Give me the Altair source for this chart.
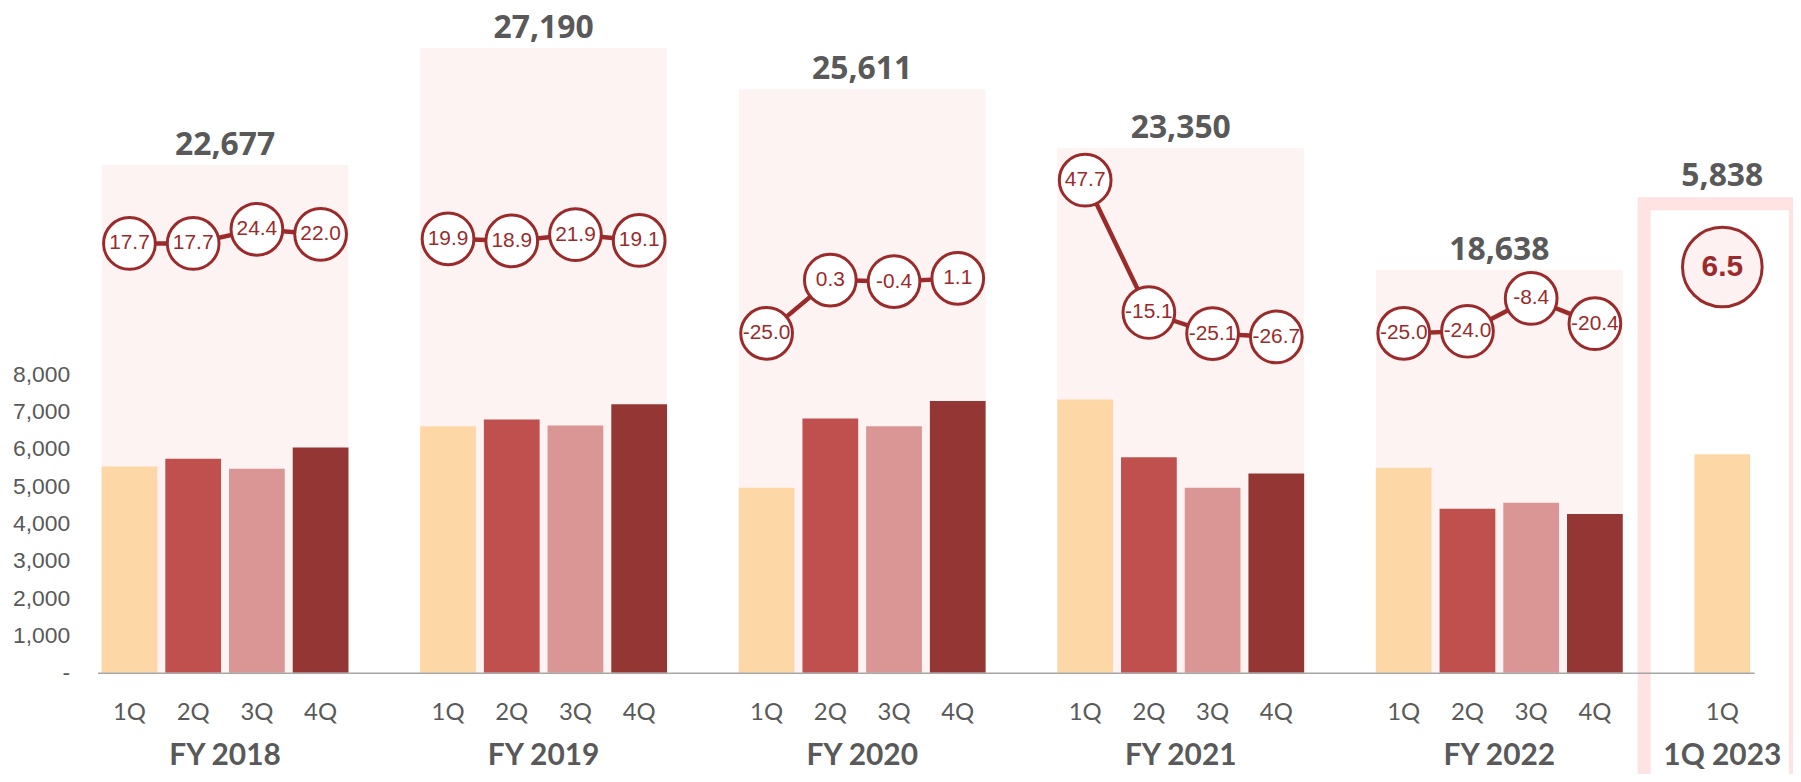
import altair as alt
import pandas as pd

# ---------------- data ----------------
years = ["FY 2018", "FY 2019", "FY 2020", "FY 2021", "FY 2022"]
quarters = ["1Q", "2Q", "3Q", "4Q"]

sales_fy2018 = [5530, 5740, 5470, 6040]
sales_fy2019 = [6610, 6790, 6630, 7200]
sales_fy2020 = [4960, 6820, 6610, 7290]
sales_fy2021 = [7330, 5780, 4960, 5340]
sales_fy2022 = [5500, 4400, 4560, 4260]

totals = [22677, 27190, 25611, 23350, 18638]

yoy_fy2018 = [17.7, 17.7, 24.4, 22.0]
yoy_fy2019 = [19.9, 18.9, 21.9, 19.1]
yoy_fy2020 = [-25.0, 0.3, -0.4, 1.1]
yoy_fy2021 = [47.7, -15.1, -25.1, -26.7]
yoy_fy2022 = [-25.0, -24.0, -8.4, -20.4]

latest_period = "1Q 2023"
latest_quarter = "1Q"
latest_sales = 5860
latest_total = 5838
latest_yoy = 6.5

y_ticks = [0, 1000, 2000, 3000, 4000, 5000, 6000, 7000, 8000]

# ---------------- styling ----------------
W, H = 1664, 658
GRAY = "#595959"
LINE = "#9B2B2B"
PANEL = "#FEF3F3"
FRAME = "#FFE2E2"
bar_colors = ["#FDD8A6", "#C0504D", "#D99694", "#943634"]

all_sales = [sales_fy2018, sales_fy2019, sales_fy2020, sales_fy2021, sales_fy2022]
all_yoy = [yoy_fy2018, yoy_fy2019, yoy_fy2020, yoy_fy2021, yoy_fy2022]

# ---------------- tables ----------------
keys = []
bar_rows, line_rows, panel_rows, fy_rows = [], [], [], []
for yi, yr in enumerate(years):
    for qi, q in enumerate(quarters):
        k = f"{yr}|{q}"
        keys.append(k)
        bar_rows.append({"key": k, "quarter": q, "value": all_sales[yi][qi]})
        line_rows.append({"key": k, "year": yr, "yoy": all_yoy[yi][qi],
                          "label": f"{all_yoy[yi][qi]:.1f}"})
    keys.append(f"{yr}|gap")
    panel_rows.append({"k1": f"{yr}|1Q", "k4": f"{yr}|4Q", "k2": f"{yr}|2Q",
                       "total": totals[yi], "tlabel": f"{totals[yi]:,}"})
    fy_rows.append({"key": f"{yr}|2Q", "label": yr})

latest_key = f"{latest_period}|{latest_quarter}"
keys.append(latest_key)
bar_rows.append({"key": latest_key, "quarter": latest_quarter, "value": latest_sales})

bars_df = pd.DataFrame(bar_rows)
line_df = pd.DataFrame(line_rows)
panel_df = pd.DataFrame(panel_rows)
fy_df = pd.DataFrame(fy_rows)
latest_df = pd.DataFrame([{
    "key": latest_key, "gap": f"{years[-1]}|gap", "yoy": latest_yoy,
    "label": f"{latest_yoy:.1f}", "tlabel": f"{latest_total:,}", "period": latest_period,
}])

# ---------------- scales / axes ----------------
xs = alt.Scale(domain=keys, paddingInner=0.125, paddingOuter=0.0625)
main_s = alt.Scale(domain=[0, 17566], nice=False, zero=False)
panel_s = alt.Scale(domain=[3065, 28373], nice=False, zero=False)
pct_s = alt.Scale(domain=[-186.1, 124.86], nice=False, zero=False)

x_axis = alt.Axis(
    title=None,
    labelExpr="indexof(datum.value, 'gap') >= 0 ? '' : split(datum.value, '|')[1]",
    labelFont="Lato", labelFontSize=24, labelColor=GRAY,
    labelBaseline="middle", labelPadding=40, labelAngle=0,
    labelOverlap=False, ticks=False, tickSize=0,
    domainColor="#A6A6A6", domainWidth=1.5, grid=False,
)
y_axis = alt.Axis(
    title=None, values=y_ticks,
    labelExpr="datum.value == 0 ? '-\u00a0\u00a0' : format(datum.value, ',')",
    labelFont="Liberation Sans", labelFontSize=23, labelColor=GRAY,
    labelPadding=28, ticks=False, domain=False, grid=False,
)

def X(field, **kw):
    return alt.X(field, scale=xs, axis=x_axis, **kw)

GAP_HALF = 4  # half of the inner gap between adjacent bars, px

panels = alt.Chart(panel_df).mark_rect(color=PANEL).encode(
    x=X("k1:N", bandPosition=0),
    x2=alt.X2("k4:N", bandPosition=1),
    y=alt.Y("total:Q", scale=panel_s, axis=None),
    y2=alt.value(H),
)

bars = alt.Chart(bars_df).mark_bar().encode(
    x=X("key:N"),
    y=alt.Y("value:Q", scale=main_s, axis=y_axis),
    color=alt.Color("quarter:N", scale=alt.Scale(domain=quarters, range=bar_colors), legend=None),
)

totals_txt = alt.Chart(panel_df).mark_text(
    font="Open Sans", fontWeight="bold", fontSize=32, color=GRAY,
    baseline="alphabetic", dy=-10, dx=GAP_HALF,
).encode(
    x=X("k2:N", bandPosition=1),
    y=alt.Y("total:Q", scale=panel_s, axis=None),
    text="tlabel:N",
)

lines = alt.Chart(line_df).mark_line(color=LINE, strokeWidth=4.5).encode(
    x=X("key:N"),
    y=alt.Y("yoy:Q", scale=pct_s, axis=None),
    detail="year:N",
)

circles = alt.Chart(line_df).mark_point(
    shape="circle", filled=True, fill="white", stroke=LINE, strokeWidth=3,
    size=2700, opacity=1,
).encode(
    x=X("key:N"),
    y=alt.Y("yoy:Q", scale=pct_s, axis=None),
)

circle_txt = alt.Chart(line_df).mark_text(
    font="Liberation Sans", fontSize=21, color=LINE,
).encode(
    x=X("key:N"),
    y=alt.Y("yoy:Q", scale=pct_s, axis=None),
    text="label:N",
)

frame = alt.Chart(latest_df).mark_rect(
    fillOpacity=0, stroke=FRAME, strokeWidth=13,
).encode(
    x=X("gap:N", bandPosition=0.24),
    x2=alt.value(1705.5),
    y=alt.value(187),
    y2=alt.value(H + 160),
)

big_circle = alt.Chart(latest_df).mark_point(
    shape="circle", filled=True, fill="#FDF1F1", stroke=LINE, strokeWidth=3,
    size=6400, opacity=1,
).encode(
    x=X("key:N"),
    y=alt.Y("yoy:Q", scale=pct_s, axis=None),
)

big_circle_txt = alt.Chart(latest_df).mark_text(
    font="Liberation Sans", fontWeight="bold", fontSize=30, color=LINE,
).encode(
    x=X("key:N"),
    y=alt.Y("yoy:Q", scale=pct_s, axis=None),
    text="label:N",
)

latest_total_txt = alt.Chart(latest_df).mark_text(
    font="Open Sans", fontWeight="bold", fontSize=32, color=GRAY,
    baseline="alphabetic",
).encode(
    x=X("key:N"),
    y=alt.value(169),
    text="tlabel:N",
)

fy_txt = alt.Chart(fy_df).mark_text(
    font="Lato", fontWeight="bold", fontSize=30, color=GRAY, baseline="middle",
    dx=GAP_HALF,
).encode(
    x=X("key:N", bandPosition=1),
    y=alt.value(742),
    text="label:N",
)

latest_period_txt = alt.Chart(latest_df).mark_text(
    font="Lato", fontWeight="bold", fontSize=30, color=GRAY, baseline="middle",
).encode(
    x=X("key:N"),
    y=alt.value(742),
    text="period:N",
)

chart = alt.layer(
    panels, bars, frame, totals_txt, lines, circles, circle_txt,
    big_circle, big_circle_txt, latest_total_txt, fy_txt, latest_period_txt,
).resolve_scale(
    y="independent"
).properties(
    width=W, height=H,
    padding={"left": 90, "top": 8, "right": 39, "bottom": 100},
    autosize=alt.AutoSizeParams(type="none"),
).configure_view(stroke=None)

chart.save("out.html", embed_options={"renderer": "svg", "actions": False})
